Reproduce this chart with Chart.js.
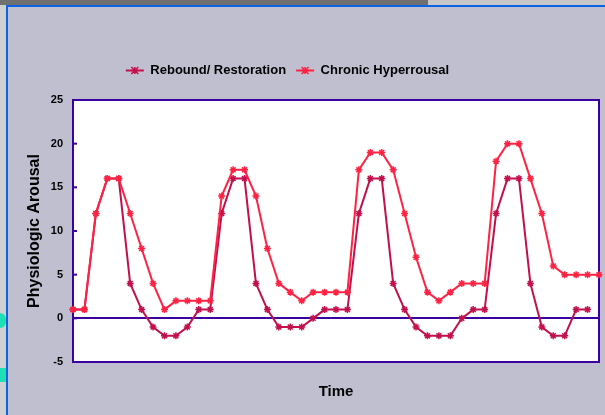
<!DOCTYPE html>
<html>
<head>
<meta charset="utf-8">
<title>Physiologic Arousal over Time</title>
<script src="https://cdn.jsdelivr.net/npm/chart.js@4.4.0/dist/chart.umd.min.js"></script>
<style>
  html, body { margin: 0; padding: 0; }
  body { width: 605px; height: 415px; overflow: hidden; position: relative; background: #c0bfd0; }
  .strip-top { position: absolute; left: 0; top: 0; width: 428px; height: 5px; background: #707070; }
  .strip-top-right { position: absolute; left: 428px; top: 0; right: 0; height: 5px; background: #c8c8c8; }
  .strip-left { position: absolute; left: 0; top: 5px; width: 6px; bottom: 0; background: #d0d0d0; }
  .line-top { position: absolute; left: 6px; top: 5px; right: 0; height: 2px; background: #0a64e6; }
  .line-left { position: absolute; left: 6px; top: 5px; width: 2px; bottom: 0; background: #0a64e6; }
  .teal { position: absolute; left: 0; width: 6px; background: #1ee0b4; }
  #chart { position: absolute; left: 0; top: 0; }
</style>
</head>
<body>
<div class="strip-top"></div>
<div class="strip-top-right"></div>
<div class="strip-left"></div>
<div class="teal" style="top:313px;height:15px;border-radius:0 8px 8px 0;"></div>
<div class="teal" style="top:368px;height:14px;"></div>
<div class="line-top"></div>
<div class="line-left"></div>
<canvas id="chart" width="605" height="415"></canvas>

<script>
// time steps along the x axis (no labels shown)
const timeSteps = [1, 2, 3, 4, 5, 6, 7, 8, 9, 10, 11, 12, 13, 14, 15, 16, 17, 18, 19, 20,
    21, 22, 23, 24, 25, 26, 27, 28, 29, 30, 31, 32, 33, 34, 35, 36, 37, 38, 39, 40,
    41, 42, 43, 44, 45, 46, 47];

const reboundValues = [1, 1, 12, 16, 16, 4, 1, -1, -2, -2, -1, 1, 1, 12, 16, 16, 4, 1, -1, -1,
    -1, 0, 1, 1, 1, 12, 16, 16, 4, 1, -1, -2, -2, -2, 0, 1, 1, 12, 16, 16,
    4, -1, -2, -2, 1, 1, null];

const chronicValues = [1, 1, 12, 16, 16, 12, 8, 4, 1, 2, 2, 2, 2, 14, 17, 17, 14, 8, 4, 3,
    2, 3, 3, 3, 3, 17, 19, 19, 17, 12, 7, 3, 2, 3, 4, 4, 4, 18, 20, 20,
    16, 12, 6, 5, 5, 5, 5];

const yTicks = [-5, 0, 5, 10, 15, 20, 25];

const axisPurple = '#3a00a0';
const reboundColor = '#c2104c';
const chronicColor = '#ff2242';

function drawStar(ctx, x, y, r) {
    ctx.beginPath();
    ctx.moveTo(x - r, y - r); ctx.lineTo(x + r, y + r);
    ctx.moveTo(x + r, y - r); ctx.lineTo(x - r, y + r);
    ctx.moveTo(x, y - r); ctx.lineTo(x, y + r);
    ctx.moveTo(x - r, y); ctx.lineTo(x + r, y);
    ctx.stroke();
}

const framePlugin = {
    id: 'frame',
    beforeLayout(chart) {
        // extra room between legend and plot area
        const lg = chart.legend;
        if (lg && !lg._patched) {
            const fit = lg.fit;
            lg.fit = function() { fit.call(this); this.height += 13; };
            lg._patched = true;
        }
    },
    afterLayout(chart) {
        const lg = chart.legend;
        if (lg) { lg.left -= 12; lg.right -= 12; }
    },
    beforeDraw(chart) {
        const {ctx, chartArea: a} = chart;
        ctx.save();
        ctx.fillStyle = '#ffffff';
        ctx.fillRect(a.left, a.top, a.right - a.left, a.bottom - a.top);
        ctx.restore();
    },
    beforeDatasetsDraw(chart) {
        const {ctx, chartArea: a, scales} = chart;
        ctx.save();
        ctx.strokeStyle = axisPurple;
        ctx.lineWidth = 2;
        ctx.strokeRect(a.left, a.top, a.right - a.left, a.bottom - a.top);
        // short tick marks on the inside of the value axis
        yTicks.forEach(v => {
            const y = scales.y.getPixelForValue(v);
            ctx.beginPath();
            ctx.moveTo(a.left, y);
            ctx.lineTo(a.left + 4, y);
            ctx.stroke();
        });
        ctx.restore();
    },
    afterDraw(chart) {
        const {ctx} = chart;
        const lg = chart.legend;
        if (!lg || !lg.legendHitBoxes) return;
        ctx.save();
        lg.legendHitBoxes.forEach((hb, i) => {
            const item = lg.legendItems[i];
            const ds = chart.data.datasets[item.datasetIndex];
            const cy = hb.top + hb.height / 2;
            ctx.strokeStyle = ds.borderColor;
            ctx.lineWidth = 2;
            ctx.beginPath();
            ctx.moveTo(hb.left, cy);
            ctx.lineTo(hb.left + 18, cy);
            ctx.stroke();
            ctx.lineWidth = 1.5;
            drawStar(ctx, hb.left + 9, cy, 3.5);
        });
        ctx.restore();
    }
};

const ctx = document.getElementById('chart').getContext('2d');
const chart = new Chart(ctx, {
    type: 'line',
    data: {
        labels: timeSteps,
        datasets: [{
            label: 'Rebound/ Restoration',
            data: reboundValues,
            borderColor: reboundColor,
            backgroundColor: reboundColor,
            borderWidth: 2,
            tension: 0,
            pointStyle: 'star',
            pointRadius: 3.5,
            pointBorderWidth: 1.5,
            pointBorderColor: reboundColor,
            order: 1
        },
        {
            label: 'Chronic Hyperrousal',
            data: chronicValues,
            borderColor: chronicColor,
            backgroundColor: chronicColor,
            borderWidth: 2,
            tension: 0,
            pointStyle: 'star',
            pointRadius: 3.5,
            pointBorderWidth: 1.5,
            pointBorderColor: chronicColor,
            order: 0
        }]
    },
    options: {
        responsive: false,
        animation: false,
        events: [],
        layout: {
            padding: { top: 54, right: 6, bottom: 0, left: 0 }
        },
        scales: {
            x: {
                type: 'category',
                offset: false,
                ticks: { display: false },
                grid: { display: false, drawTicks: false },
                border: { display: false },
                title: {
                    display: true,
                    text: 'Time',
                    color: '#000000',
                    font: { family: 'Liberation Sans, Arial, sans-serif', size: 15, weight: 'bold' },
                    padding: { top: 0, bottom: 14 }
                },
                afterFit: function(scale) { scale.height = 53; }
            },
            y: {
                min: -5,
                max: 25,
                ticks: {
                    stepSize: 5,
                    padding: 10,
                    color: '#000000',
                    font: { family: 'Liberation Sans, Arial, sans-serif', size: 11, weight: 'bold' }
                },
                grid: {
                    drawTicks: false,
                    color: c => c.tick && c.tick.value === 0 ? axisPurple : 'rgba(0,0,0,0)',
                    lineWidth: c => c.tick && c.tick.value === 0 ? 2 : 0
                },
                border: { display: false },
                title: {
                    display: true,
                    text: 'Physiologic Arousal',
                    color: '#000000',
                    font: { family: 'Liberation Sans, Arial, sans-serif', size: 16, weight: 'bold' },
                    padding: { top: 25, bottom: 0 }
                },
                afterFit: function(scale) { scale.width = 73; }
            }
        },
        plugins: {
            legend: {
                position: 'top',
                labels: {
                    boxWidth: 18,
                    boxHeight: 13,
                    padding: 10,
                    color: '#000000',
                    font: { family: 'Liberation Sans, Arial, sans-serif', size: 13, weight: 'bold' },
                    sort: (a, b) => a.datasetIndex - b.datasetIndex,
                    generateLabels: function(chart) {
                        const items = Chart.defaults.plugins.legend.labels.generateLabels(chart);
                        items.forEach(it => {
                            it.fillStyle = 'rgba(0,0,0,0)';
                            it.strokeStyle = 'rgba(0,0,0,0)';
                            it.lineWidth = 0;
                        });
                        return items;
                    }
                }
            },
            tooltip: { enabled: false }
        }
    },
    plugins: [framePlugin]
});
</script>
</body>
</html>
